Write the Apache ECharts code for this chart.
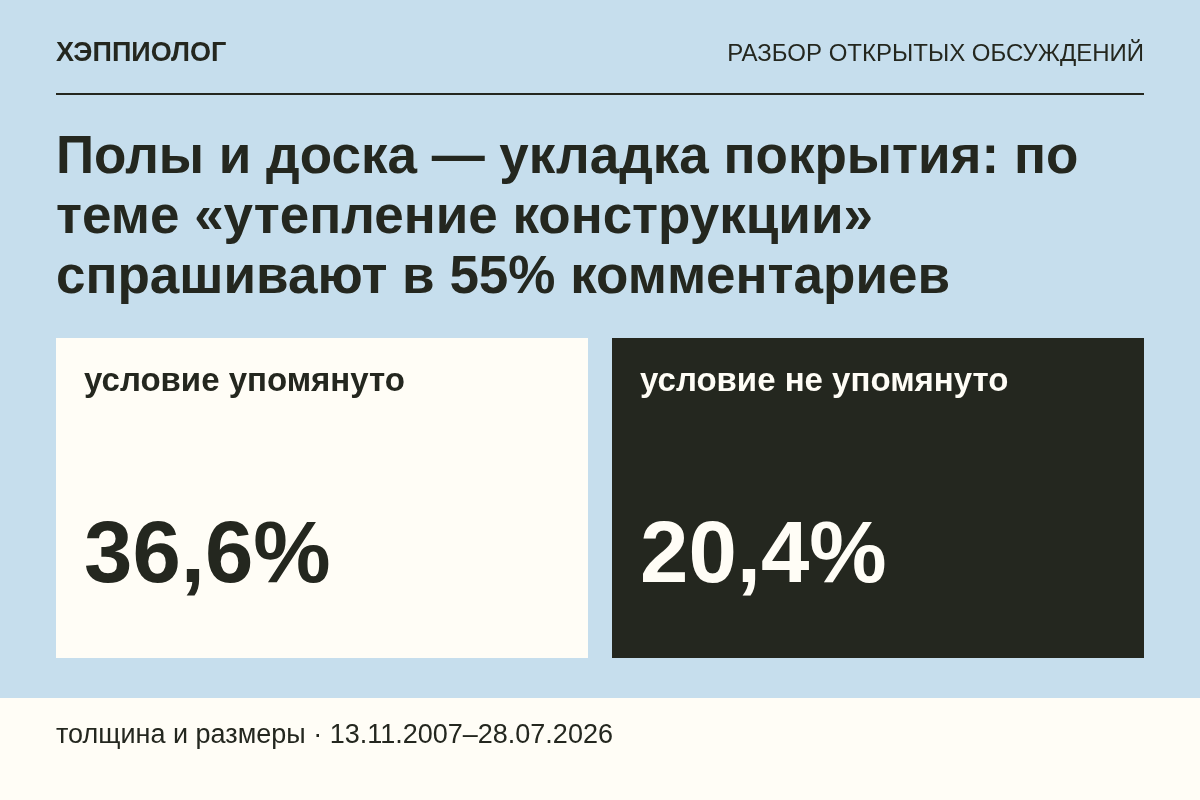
<!DOCTYPE html>
<html lang="ru">
<head>
  <meta charset="utf-8">
  <title>Полы и доска</title>
  <script src="https://cdn.jsdelivr.net/npm/echarts@6/dist/echarts.min.js"></script>
  <style>
    html, body { margin: 0; padding: 0; }
    #main { width: 1200px; height: 800px; }
  </style>
</head>
<body>
  <div id="main"></div>
  <script>
    const brand = 'ХЭППИОЛОГ';
    const kicker = 'РАЗБОР ОТКРЫТЫХ ОБСУЖДЕНИЙ';
    const titleLines = [
      'Полы и доска — укладка покрытия: по',
      'теме «утепление конструкции»',
      'спрашивают в 55% комментариев'
    ];
    const categories = ['условие упомянуто', 'условие не упомянуто'];
    const values = ['36,6%', '20,4%'];
    const footer = 'толщина и размеры · 13.11.2007–28.07.2026';

    const FONT = '"Liberation Sans", Arial, sans-serif';
    const INK = '#24271f';
    const PAPER = '#fffdf6';
    const BG = '#c6deed';

    // y is the baseline; zrender has no alphabetic align so go through middle
    function txt(x, y, text, size, weight, fill, align) {
      return {
        type: 'text',
        x: x, y: y - size * 0.3,
        style: {
          text: text, fill: fill, fontFamily: FONT, fontSize: size, fontWeight: weight,
          align: align || 'left', verticalAlign: 'middle'
        }
      };
    }

    const elements = [
      { type: 'rect', shape: { x: 0, y: 698, width: 1200, height: 102 }, style: { fill: PAPER } },
      { type: 'rect', shape: { x: 56, y: 93, width: 1088, height: 2 }, style: { fill: INK } },
      txt(56, 62, brand, 27, 700, INK),
      txt(1144, 62, kicker, 24, 400, INK, 'right'),
      txt(56, 744, footer, 27, 400, INK)
    ];
    titleLines.forEach(function (line, i) {
      elements.push(txt(56, 174 + i * 60, line, 53, 700, INK));
    });
    categories.forEach(function (name, i) {
      const left = 56 + i * 556;
      const dark = i === 1;
      elements.push({ type: 'rect', shape: { x: left, y: 338, width: 532, height: 320 }, style: { fill: dark ? INK : PAPER } });
      elements.push(txt(left + 28, 392, name, 33, 700, dark ? PAPER : INK));
      elements.push(txt(left + 28, 584, values[i], 87, 700, dark ? PAPER : INK));
    });

    const chart = echarts.init(document.getElementById('main'));
    chart.setOption({
      backgroundColor: BG,
      animation: false,
      graphic: { elements: elements }
    });
  </script>
</body>
</html>
